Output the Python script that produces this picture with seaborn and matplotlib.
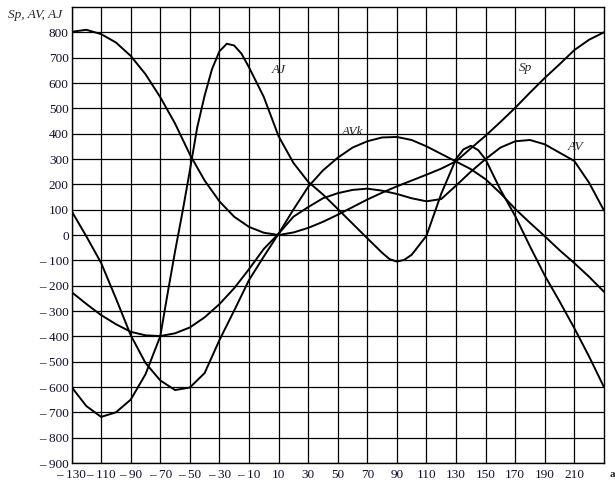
import numpy as np
import pandas as pd
import matplotlib
matplotlib.use("Agg")
import matplotlib.pyplot as plt
import seaborn as sns

# angle values (x axis)
a_vals = list(range(-130, 231, 10))

# curves, one value per 10 units of a
sp_vals = [802, 810, 793, 760, 707, 635, 544, 440, 318, 215, 133, 72, 32, 9,
           0, 10, 28, 52, 80, 110, 140, 167, 192, 215, 238, 262, 291, 342,
           392, 446, 502, 562, 620, 674, 730, 771, 800]
av_vals = [-225, -272, -316, -352, -382, -396, -399, -388, -365, -325, -273,
           -210, -135, -55, 5, 72, 110, 145, 165, 178, 183, 175, 162, 145,
           133, 142, 195, 250, 300, 345, 370, 375, 358, 325, 292, 206, 97]
avk_vals = [95, -5, -110, -250, -395, -505, -574, -612, -602, -545, -415,
            -298, -178, -85, 5, 100, 190, 255, 305, 345, 370, 385, 387, 375,
            350, 320, 290, 260, 220, 165, 103, 48, -5, -60, -111, -165, -224]

# AJ turns sharply, so it gets a few extra readings
aj_a = [-130, -120, -110, -100, -90, -80, -70, -65, -60, -55, -50, -45, -40,
        -35, -30, -25, -20, -15, -10, 0, 10, 20, 30, 40, 50, 60, 70, 80, 85,
        90, 95, 100, 110, 120, 130, 135, 140, 145, 150, 160, 170, 180, 190,
        200, 210, 220, 230]
aj_vals = [-600, -675, -718, -700, -650, -550, -400, -230, -65, 90, 254, 425,
           550, 655, 725, 755, 748, 715, 662, 545, 390, 285, 210, 160, 103,
           45, -13, -70, -95, -105, -98, -78, -3, 163, 300, 338, 352, 335, 298,
           179, 75, -45, -160, -262, -368, -480, -600]

x_ticks = list(range(-130, 211, 20))
y_ticks = list(range(-900, 801, 100))

# label text and where it sits (data coords)
curve_labels = ["AJ", "Sp", "AVk", "AV"]
label_pos = [(10, 651), (177, 659), (60, 405), (211, 349)]

df = pd.DataFrame({"a": a_vals, "Sp": sp_vals, "AV": av_vals, "AVk": avk_vals})
df_aj = pd.DataFrame({"a": aj_a, "AJ": aj_vals})

sns.set_style("white")
plt.rcParams["font.family"] = ["Liberation Serif", "DejaVu Serif"]

fig = plt.figure(figsize=(6.15, 4.86), dpi=100)
ax = fig.add_axes([0.1163, 0.0473, 0.8657, 0.9383])

for name in ["Sp", "AV", "AVk"]:
    sns.lineplot(data=df, x="a", y=name, ax=ax, color="black", linewidth=1.4)
sns.lineplot(data=df_aj, x="a", y="AJ", ax=ax, color="black", linewidth=1.4)

ax.set_xlim(-130, 230)
ax.set_ylim(-900, 900)
ax.set_xticks(x_ticks)
ax.set_yticks(y_ticks)

def fmt(v):
    return f"\u2013 {abs(v)}" if v < 0 else f"{v}"

ax.set_xticklabels([fmt(v) for v in x_ticks], fontsize=9.5, color="#101030")
ax.set_yticklabels([fmt(v) for v in y_ticks], fontsize=9.5, color="#101030")
ax.tick_params(axis="both", length=0)
ax.tick_params(axis="y", pad=2)
ax.tick_params(axis="x", pad=4)

ax.grid(True, color="black", linewidth=0.9)
ax.set_axisbelow(True)
for s in ax.spines.values():
    s.set_color("black")
    s.set_linewidth(1.0)

ax.set_xlabel("")
ax.set_ylabel("")

for txt, (x, y) in zip(curve_labels, label_pos):
    ax.text(x, y, txt, fontsize=9.5, style="italic", ha="center", va="center")

fig.text(8 / 615, 1 - 15 / 486, "Sp, AV, AJ", fontsize=9.5, style="italic",
         ha="left", va="center")
fig.text(612 / 615, 1 - 474 / 486, "a", fontsize=8, fontweight="bold",
         ha="center", va="center")

fig.savefig("out.png", dpi=100)
